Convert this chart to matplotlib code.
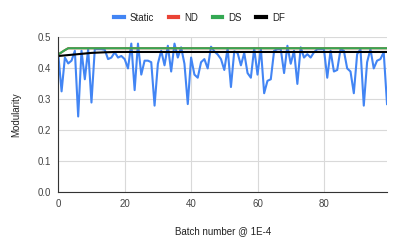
import matplotlib
matplotlib.use("Agg")
import matplotlib.pyplot as plt

# batch index 0..99
batch = list(range(100))

static = [0.446, 0.326, 0.435, 0.416, 0.425, 0.457, 0.245, 0.457, 0.365, 0.462,
          0.290, 0.462, 0.462, 0.462, 0.460, 0.430, 0.435, 0.452, 0.435, 0.440,
          0.430, 0.400, 0.480, 0.330, 0.480, 0.380, 0.425, 0.425, 0.420, 0.280,
          0.415, 0.457, 0.410, 0.473, 0.390, 0.480, 0.435, 0.468, 0.415, 0.285,
          0.435, 0.380, 0.370, 0.420, 0.430, 0.400, 0.470, 0.455, 0.445, 0.430,
          0.395, 0.465, 0.340, 0.455, 0.450, 0.410, 0.450, 0.385, 0.370, 0.465,
          0.380, 0.465, 0.320, 0.360, 0.365, 0.457, 0.462, 0.462, 0.385, 0.473,
          0.415, 0.457, 0.350, 0.468, 0.435, 0.446, 0.435, 0.452, 0.462, 0.462,
          0.462, 0.370, 0.457, 0.390, 0.395, 0.462, 0.457, 0.400, 0.390, 0.320,
          0.446, 0.462, 0.280, 0.420, 0.462, 0.400, 0.425, 0.430, 0.452, 0.285]

ds = [0.445, 0.452, 0.459, 0.465, 0.465, 0.465, 0.465, 0.465, 0.465, 0.465,
      0.465, 0.465, 0.465, 0.465, 0.465, 0.465, 0.465, 0.465, 0.465, 0.465,
      0.465, 0.465, 0.465, 0.465, 0.465, 0.465, 0.465, 0.465, 0.465, 0.465,
      0.465, 0.465, 0.465, 0.465, 0.465, 0.465, 0.465, 0.465, 0.465, 0.465,
      0.465, 0.465, 0.465, 0.465, 0.465, 0.465, 0.465, 0.465, 0.465, 0.465,
      0.465, 0.465, 0.465, 0.465, 0.465, 0.465, 0.465, 0.465, 0.465, 0.465,
      0.465, 0.465, 0.465, 0.465, 0.465, 0.465, 0.465, 0.465, 0.465, 0.465,
      0.465, 0.465, 0.465, 0.465, 0.465, 0.465, 0.465, 0.465, 0.465, 0.465,
      0.465, 0.465, 0.465, 0.465, 0.465, 0.465, 0.465, 0.465, 0.465, 0.465,
      0.465, 0.465, 0.465, 0.465, 0.465, 0.465, 0.465, 0.465, 0.465, 0.465]

# ND sits under DS in the picture
nd = list(ds)

df = [0.440, 0.441, 0.442, 0.443, 0.444, 0.445, 0.446, 0.447, 0.448, 0.449,
      0.450, 0.4505, 0.451, 0.4515, 0.452, 0.4523, 0.4526, 0.453, 0.453, 0.453,
      0.453, 0.453, 0.453, 0.453, 0.453, 0.453, 0.453, 0.453, 0.453, 0.453,
      0.453, 0.453, 0.453, 0.453, 0.453, 0.453, 0.453, 0.453, 0.453, 0.453,
      0.453, 0.453, 0.453, 0.453, 0.453, 0.453, 0.453, 0.453, 0.453, 0.453,
      0.453, 0.453, 0.453, 0.453, 0.453, 0.453, 0.453, 0.453, 0.453, 0.453,
      0.453, 0.453, 0.453, 0.453, 0.453, 0.453, 0.453, 0.453, 0.453, 0.453,
      0.453, 0.453, 0.453, 0.453, 0.453, 0.453, 0.453, 0.453, 0.453, 0.453,
      0.453, 0.453, 0.453, 0.453, 0.453, 0.453, 0.453, 0.453, 0.453, 0.453,
      0.453, 0.453, 0.453, 0.453, 0.453, 0.453, 0.453, 0.453, 0.453, 0.453]

names = ["Static", "ND", "DS", "DF"]
colors = ["#4285F4", "#EA4335", "#34A853", "#000000"]
yticks = [0.0, 0.1, 0.2, 0.3, 0.4, 0.5]
xticks = [0, 20, 40, 60, 80]

plt.rcParams['font.family'] = ['Arial', 'Liberation Sans', 'DejaVu Sans']

fig = plt.figure(figsize=(3.99, 2.46), dpi=100)
ax = fig.add_axes([0.146, 0.2175, 0.824, 0.6305])

for ys, name, c in zip([static, nd, ds, df], names, colors):
    ax.plot(batch, ys, color=c, lw=1.5, label=name, solid_joinstyle='round')

ax.set_xlim(0, 99)
ax.set_ylim(0, 0.5)
ax.set_yticks(yticks)
ax.set_yticklabels(["%.1f" % v for v in yticks])
ax.set_xticks(xticks)

ax.grid(True, color="#d9d9d9", lw=0.8)
ax.set_axisbelow(True)
for s in ["top", "right"]:
    ax.spines[s].set_visible(False)
ax.spines["left"].set_color("#333333")
ax.spines["bottom"].set_color("#333333")
ax.spines["left"].set_linewidth(0.8)
ax.spines["bottom"].set_linewidth(0.8)
ax.tick_params(length=0, labelsize=7, colors="#444444", pad=5)

ax.set_xlabel("Batch number @ 1E-4", fontsize=7, color="#222222", labelpad=12)
ax.set_ylabel("Modularity", fontsize=7, color="#222222", labelpad=12)

leg = fig.legend(*ax.get_legend_handles_labels(), loc="center",
                 bbox_to_anchor=(0.5, 0.928), ncol=4, frameon=False,
                 fontsize=7, handlelength=1.0, handletextpad=0.6, columnspacing=1.5)
for line in leg.get_lines():
    line.set_linewidth(3)
for t in leg.get_texts():
    t.set_color("#222222")

fig.savefig("out.png", dpi=100)
